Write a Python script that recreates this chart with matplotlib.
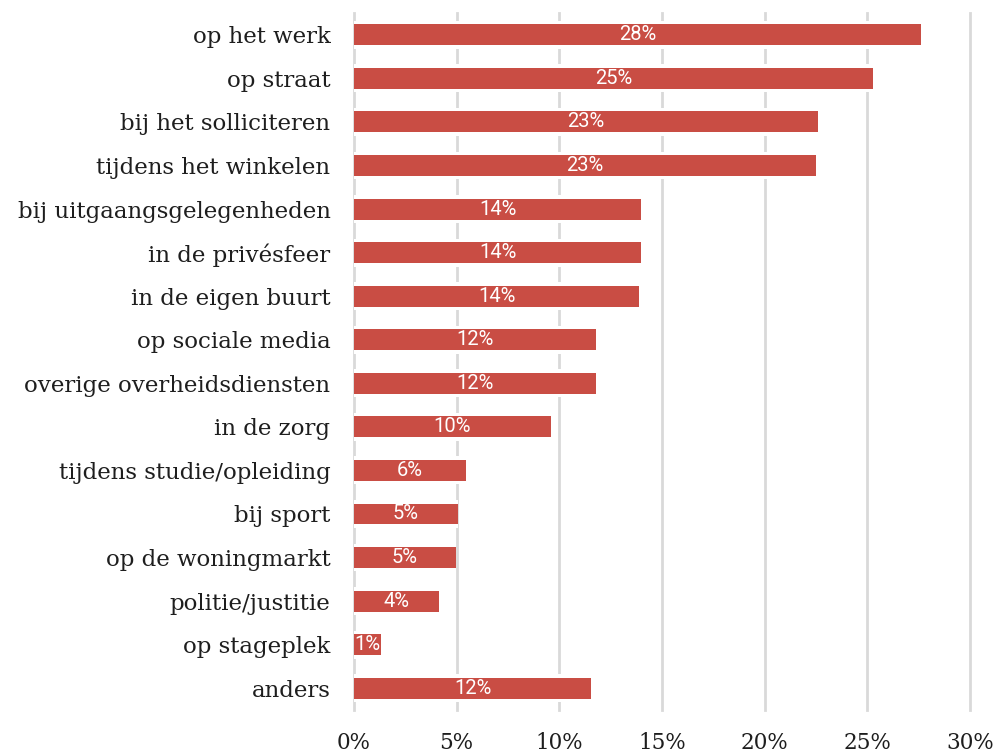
import numpy as np
import matplotlib
matplotlib.use("Agg")
import matplotlib.pyplot as plt
from matplotlib.ticker import FuncFormatter

# data (percent of respondents)
categories = ["op het werk", "op straat", "bij het solliciteren", "tijdens het winkelen",
              "bij uitgaangsgelegenheden", "in de privésfeer", "in de eigen buurt",
              "op sociale media", "overige overheidsdiensten", "in de zorg",
              "tijdens studie/opleiding", "bij sport", "op de woningmarkt",
              "politie/justitie", "op stageplek", "anders"]
values = [27.6, 25.3, 22.6, 22.5, 14.0, 14.0, 13.9, 11.8, 11.8, 9.6,
          5.45, 5.05, 4.95, 4.15, 1.3, 11.55]
value_labels = ["28%", "25%", "23%", "23%", "14%", "14%", "14%", "12%", "12%", "10%",
                "6%", "5%", "5%", "4%", "1%", "12%"]
x_ticks = [0, 5, 10, 15, 20, 25, 30]

bar_color = "#c94d44"
grid_color = "#d9d9d9"
text_color = "#1e1e1e"
serif = "DejaVu Serif"

fig = plt.figure(figsize=(10, 7.53), dpi=100)
ax = fig.add_axes([0.354, 0.0571, 0.616, 0.9256])

y = np.arange(len(categories))
# white backing so gridlines look broken around each bar
ax.barh(y, values, height=0.64, color="white", zorder=2)
ax.barh(y, values, height=0.48, color=bar_color, zorder=3)

for yi, v, lab in zip(y, values, value_labels):
    ax.text(v / 2, yi, lab, ha="center", va="center", color="white",
            fontsize=14.5, family="Roboto", zorder=4)

ax.set_ylim(len(categories) - 0.5, -0.5)
ax.set_xlim(0, 30)
ax.set_xticks(x_ticks)
ax.xaxis.set_major_formatter(FuncFormatter(lambda v, p: f"{v:.0f}%"))
ax.set_yticks(y)
ax.set_yticklabels(categories)

ax.grid(axis="x", color=grid_color, linewidth=2, zorder=1)
for gl in ax.xaxis.get_gridlines():
    gl.set_clip_on(False)
ax.set_axisbelow(True)
for s in ax.spines.values():
    s.set_visible(False)

ax.tick_params(axis="both", length=0)
ax.tick_params(axis="y", pad=17, labelsize=16.5, labelcolor=text_color)
ax.tick_params(axis="x", pad=16, labelsize=15.5, labelcolor=text_color)
for t in ax.get_xticklabels() + ax.get_yticklabels():
    t.set_family(serif)

fig.savefig("out.png", dpi=100)
